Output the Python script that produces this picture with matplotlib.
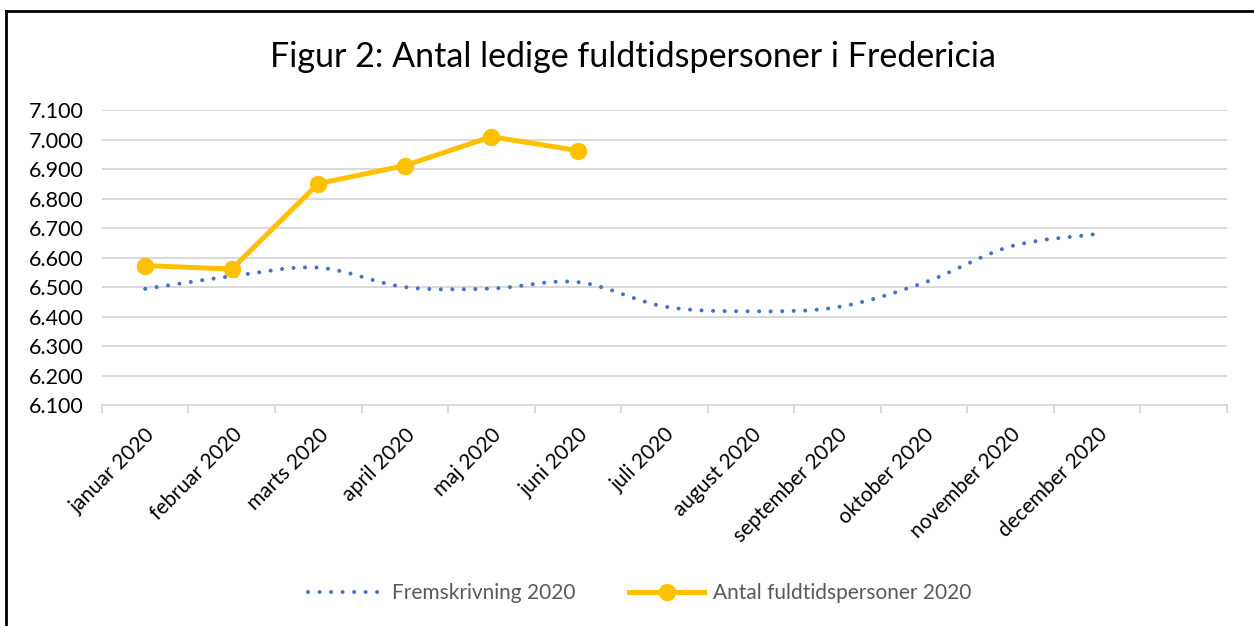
import matplotlib.pyplot as plt
import numpy as np
from matplotlib.path import Path
from matplotlib.patches import PathPatch
from matplotlib.lines import Line2D
from matplotlib.ticker import FuncFormatter, MultipleLocator

plt.rcParams['font.family'] = ['Lato', 'DejaVu Sans']

months = ["januar 2020", "februar 2020", "marts 2020", "april 2020", "maj 2020",
          "juni 2020", "juli 2020", "august 2020", "september 2020", "oktober 2020",
          "november 2020", "december 2020", ""]
fremskrivning = [6494, 6537, 6566, 6500, 6495, 6517, 6434, 6418, 6432, 6515, 6638, 6680]
antal = [6573, 6561, 6851, 6912, 7010, 6963]

blue = "#4472C4"
gold = "#FFC000"
grid_col = "#D9D9D9"

fig = plt.figure(figsize=(12.54, 6.26), dpi=100)
ax = fig.add_axes([0.0813, 0.353, 0.8972, 0.471])

# smoothed line like Excel: cubic bezier through the points
x = np.arange(len(fremskrivning), dtype=float)
y = np.array(fremskrivning, dtype=float)
pts = np.column_stack([x, y])
verts = [pts[0]]
codes = [Path.MOVETO]
n = len(pts)
for i in range(n - 1):
    p0 = pts[max(i - 1, 0)]
    p1 = pts[i]
    p2 = pts[i + 1]
    p3 = pts[min(i + 2, n - 1)]
    c1 = p1 + (p2 - p0) / 6
    c2 = p2 - (p3 - p1) / 6
    verts += [c1, c2, p2]
    codes += [Path.CURVE4] * 3
patch = PathPatch(Path(verts, codes), facecolor="none", edgecolor=blue, lw=2.9,
                  linestyle=(0, (0.01, 2.85)), capstyle="round", zorder=3)
ax.add_patch(patch)

ax.plot(np.arange(len(antal)), antal, color=gold, lw=3.6, marker="o",
        markersize=11.5, zorder=4, solid_capstyle="round")

ax.set_xlim(-0.5, len(months) - 0.5)
ax.set_ylim(6100, 7100)
ax.yaxis.set_major_locator(MultipleLocator(100))
ax.yaxis.set_major_formatter(FuncFormatter(lambda v, p: f"{int(v):,}".replace(",", ".")))
ax.grid(axis="y", color=grid_col, lw=1.4)
ax.set_axisbelow(True)
for s in ["top", "right", "left"]:
    ax.spines[s].set_visible(False)
ax.spines["bottom"].set_color(grid_col)
ax.spines["bottom"].set_linewidth(1.4)

ax.set_xticks(np.arange(-0.5, len(months)), minor=True)
ax.set_xticks(np.arange(len(months)))
ax.set_xticklabels(months, rotation=45, ha="right", va="top", rotation_mode="anchor",
                   fontsize=15)
ax.tick_params(axis="x", which="major", length=0, pad=14)
ax.tick_params(axis="x", which="minor", length=6, color=grid_col, width=1.4)
ax.tick_params(axis="y", length=0, labelsize=15.5, pad=13)

fig.text(0.505, 0.909, "Figur 2: Antal ledige fuldtidspersoner i Fredericia",
         ha="center", va="center", fontsize=24.5)

h1 = Line2D([], [], color=blue, lw=2.9, linestyle=(0, (0.01, 2.85)),
            dash_capstyle="round")
h2 = Line2D([], [], color=gold, lw=3.6, marker="o", markersize=11.5)
fig.legend([h1, h2], ["Fremskrivning 2020", "Antal fuldtidspersoner 2020"],
           loc="center", bbox_to_anchor=(0.51, 0.052), ncol=2, frameon=False,
           fontsize=15, handlelength=3.6, handletextpad=0.4, columnspacing=2.6,
           labelcolor="#595959")

# chart frame (top and left edges visible)
fig.add_artist(Line2D([0.005, 1], [0.982, 0.982], color="black", lw=2,
                      transform=fig.transFigure))
fig.add_artist(Line2D([0.005, 0.005], [0, 0.982], color="black", lw=2,
                      transform=fig.transFigure))

fig.savefig("out.png", dpi=100)
